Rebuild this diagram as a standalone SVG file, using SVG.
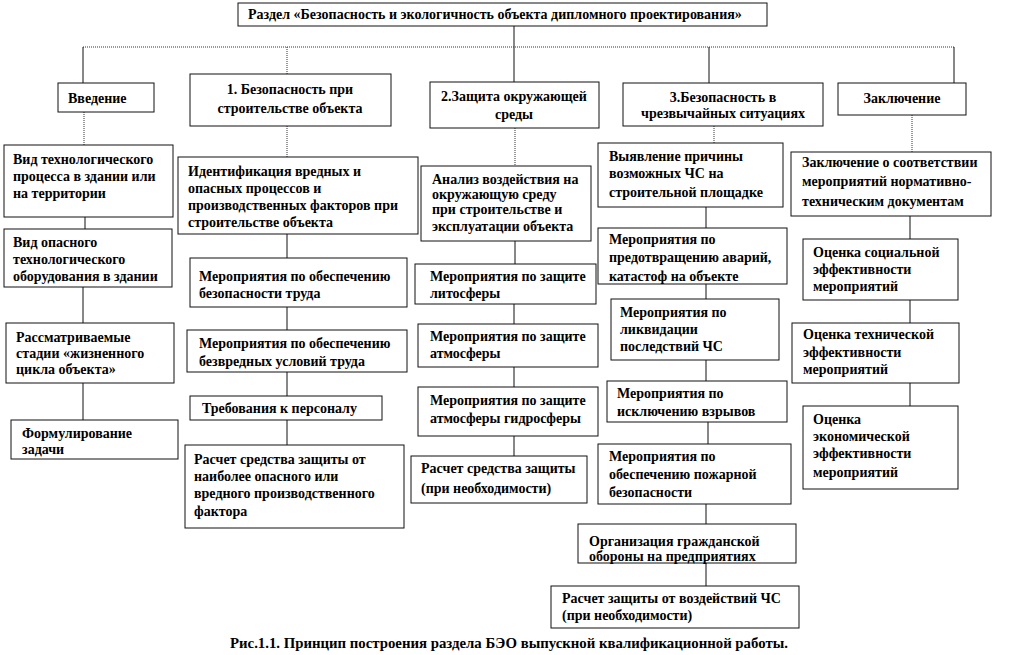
<svg xmlns="http://www.w3.org/2000/svg" width="1011" height="655" viewBox="0 0 1011 655">
<style>
rect{fill:#fff;stroke:#111;stroke-width:1}
text{font-family:"Liberation Serif","Times New Roman",serif;font-weight:bold;font-size:14px;fill:#000}
.c{text-anchor:middle}
.cap{font-size:14.8px}
.ln line{stroke:#111;stroke-width:1}
.ln line.d{stroke:#333;stroke-dasharray:1 1}
</style>
<rect x="0" y="0" width="1011" height="655" style="stroke:none"/>
<g id="connectors" class="ln">
<line x1="514" y1="26" x2="514" y2="82"/>
<line class="d" x1="83" y1="47" x2="954" y2="47"/>
<line x1="83" y1="47" x2="83" y2="83"/>
<line class="d" x1="287" y1="47" x2="287" y2="74"/>
<line x1="709" y1="47" x2="709" y2="83"/>
<line x1="954" y1="47" x2="954" y2="83"/>
<line class="d" x1="84" y1="112" x2="84" y2="145"/>
<line x1="85" y1="217" x2="85" y2="229"/>
<line x1="83" y1="287" x2="83" y2="323"/>
<line x1="83" y1="383" x2="83" y2="420"/>
<line class="d" x1="287" y1="126" x2="287" y2="157"/>
<line x1="287" y1="234" x2="287" y2="258"/>
<line x1="287" y1="307" x2="287" y2="330"/>
<line x1="287" y1="372" x2="287" y2="396"/>
<line x1="287" y1="420" x2="287" y2="445"/>
<line class="d" x1="515" y1="128" x2="515" y2="166"/>
<line x1="515" y1="241" x2="515" y2="264"/>
<line x1="514" y1="304" x2="514" y2="324"/>
<line x1="514" y1="367" x2="514" y2="387"/>
<line x1="514" y1="436" x2="514" y2="456"/>
<line class="d" x1="714" y1="126" x2="714" y2="143"/>
<line x1="706" y1="207" x2="706" y2="228"/>
<line x1="706" y1="284" x2="706" y2="299"/>
<line x1="706" y1="360" x2="706" y2="381"/>
<line x1="708" y1="422" x2="708" y2="444"/>
<line x1="706" y1="504" x2="706" y2="524"/>
<line x1="706" y1="563" x2="706" y2="586"/>
<line class="d" x1="912" y1="115" x2="912" y2="152"/>
<line x1="910" y1="216" x2="910" y2="239"/>
<line x1="910" y1="300" x2="910" y2="323"/>
<line x1="910" y1="383" x2="910" y2="406"/>
</g>
<g id="title"><rect x="238" y="3" width="529" height="23"/><text x="248" y="19">Раздел «Безопасность и экологичность  объекта дипломного проектирования»</text></g>
<g id="h0"><rect x="58" y="83" width="96" height="29"/><text x="68" y="103">Введение</text></g>
<g id="h1"><rect x="190" y="74" width="201" height="52"/><text class="c" x="290" y="94">1. Безопасность  при</text><text class="c" x="290" y="113">строительстве  объекта</text></g>
<g id="h2"><rect x="430" y="82" width="169" height="46"/><text class="c" x="514" y="101">2.Защита окружающей</text><text class="c" x="514" y="119">среды</text></g>
<g id="h3"><rect x="623" y="83" width="200" height="43"/><text class="c" x="723" y="102">3.Безопасность в</text><text class="c" x="723" y="118">чрезвычайных ситуациях</text></g>
<g id="h4"><rect x="838" y="83" width="128" height="32"/><text class="c" x="902" y="103">Заключение</text></g>

<g id="n01"><rect x="4" y="145" width="169" height="72"/><text x="13" y="164">Вид технологического</text><text x="13" y="181">процесса в здании или</text><text x="13" y="198">на территории</text></g>
<g id="n02"><rect x="4" y="229" width="168" height="58"/><text x="13" y="247">Вид опасного</text><text x="13" y="264">технологического</text><text x="13" y="281">оборудования в здании</text></g>
<g id="n03"><rect x="6" y="323" width="168" height="60"/><text x="16" y="342">Рассматриваемые</text><text x="16" y="358">стадии «жизненного</text><text x="16" y="374">цикла объекта»</text></g>
<g id="n04"><rect x="11" y="420" width="167" height="39"/><text x="22" y="438">Формулирование</text><text x="22" y="454">задачи</text></g>

<g id="n11"><rect x="178" y="157" width="240" height="77"/><text x="188" y="176">Идентификация вредных и</text><text x="188" y="193">опасных процессов и</text><text x="188" y="210">производственных  факторов при</text><text x="188" y="227">строительстве объекта</text></g>
<g id="n12"><rect x="190" y="258" width="217" height="49"/><text x="199" y="281">Мероприятия  по  обеспечению</text><text x="199" y="298">безопасности труда</text></g>
<g id="n13"><rect x="187" y="330" width="220" height="42"/><text x="199" y="348">Мероприятия  по  обеспечению</text><text x="199" y="366">безвредных условий  труда</text></g>
<g id="n14"><rect x="190" y="396" width="192" height="24"/><text x="202" y="413">Требования к персоналу</text></g>
<g id="n15"><rect x="185" y="445" width="219" height="83"/><text x="194" y="464">Расчет средства защиты от</text><text x="194" y="481">наиболее опасного или</text><text x="194" y="498">вредного производственного</text><text x="194" y="516">фактора</text></g>

<g id="n21"><rect x="421" y="166" width="170" height="75"/><text x="432" y="184">Анализ воздействия на</text><text x="432" y="199">окружающую среду</text><text x="432" y="214">при  строительстве и</text><text x="432" y="231">эксплуатации  объекта</text></g>
<g id="n22"><rect x="415" y="264" width="181" height="40"/><text x="430" y="281">Мероприятия  по  защите</text><text x="430" y="298">литосферы</text></g>
<g id="n23"><rect x="418" y="324" width="180" height="43"/><text x="430" y="341">Мероприятия  по  защите</text><text x="430" y="358">атмосферы</text></g>
<g id="n24"><rect x="418" y="387" width="180" height="49"/><text x="430" y="405">Мероприятия  по  защите</text><text x="430" y="423">атмосферы гидросферы</text></g>
<g id="n25"><rect x="411" y="456" width="176" height="47"/><text x="421" y="473">Расчет средства защиты</text><text x="421" y="493">(при  необходимости)</text></g>

<g id="n31"><rect x="598" y="143" width="185" height="64"/><text x="609" y="161">Выявление причины</text><text x="609" y="178">возможных ЧС на</text><text x="609" y="197">строительной площадке</text></g>
<g id="n32"><rect x="598" y="228" width="189" height="56"/><text x="609" y="244">Мероприятия  по</text><text x="609" y="262">предотвращению  аварий,</text><text x="609" y="281">катастоф на объекте</text></g>
<g id="n33"><rect x="611" y="299" width="168" height="61"/><text x="620" y="317">Мероприятия  по</text><text x="620" y="334">ликвидации</text><text x="620" y="351">последствий ЧС</text></g>
<g id="n34"><rect x="607" y="381" width="180" height="41"/><text x="617" y="398">Мероприятия  по</text><text x="617" y="416">исключению взрывов</text></g>
<g id="n35"><rect x="598" y="444" width="193" height="60"/><text x="609" y="461">Мероприятия  по</text><text x="609" y="479">обеспечению пожарной</text><text x="609" y="497">безопасности</text></g>
<g id="n36"><rect x="578" y="524" width="218" height="39"/><text x="589" y="546">Организация  гражданской</text><text x="589" y="561">обороны  на предприятиях</text></g>
<g id="n37"><rect x="551" y="586" width="248" height="42"/><text x="562" y="603">Расчет защиты от воздействий ЧС</text><text x="562" y="620">(при  необходимости)</text></g>

<g id="n41"><rect x="791" y="152" width="200" height="64"/><text x="802" y="167">Заключение о соответствии</text><text x="802" y="186">мероприятий  нормативно-</text><text x="802" y="206">техническим документам</text></g>
<g id="n42"><rect x="803" y="239" width="155" height="61"/><text x="813" y="257">Оценка социальной</text><text x="813" y="274">эффективности</text><text x="813" y="291">мероприятий</text></g>
<g id="n43"><rect x="792" y="323" width="167" height="60"/><text x="803" y="339">Оценка технической</text><text x="803" y="357">эффективности</text><text x="803" y="374">мероприятий</text></g>
<g id="n44"><rect x="803" y="406" width="155" height="83"/><text x="813" y="424">Оценка</text><text x="813" y="441">экономической</text><text x="813" y="458">эффективности</text><text x="813" y="477">мероприятий</text></g>

<text class="cap" x="230" y="648">Рис.1.1. Принцип построения раздела БЭО выпускной квалификационной работы.</text>
</svg>
